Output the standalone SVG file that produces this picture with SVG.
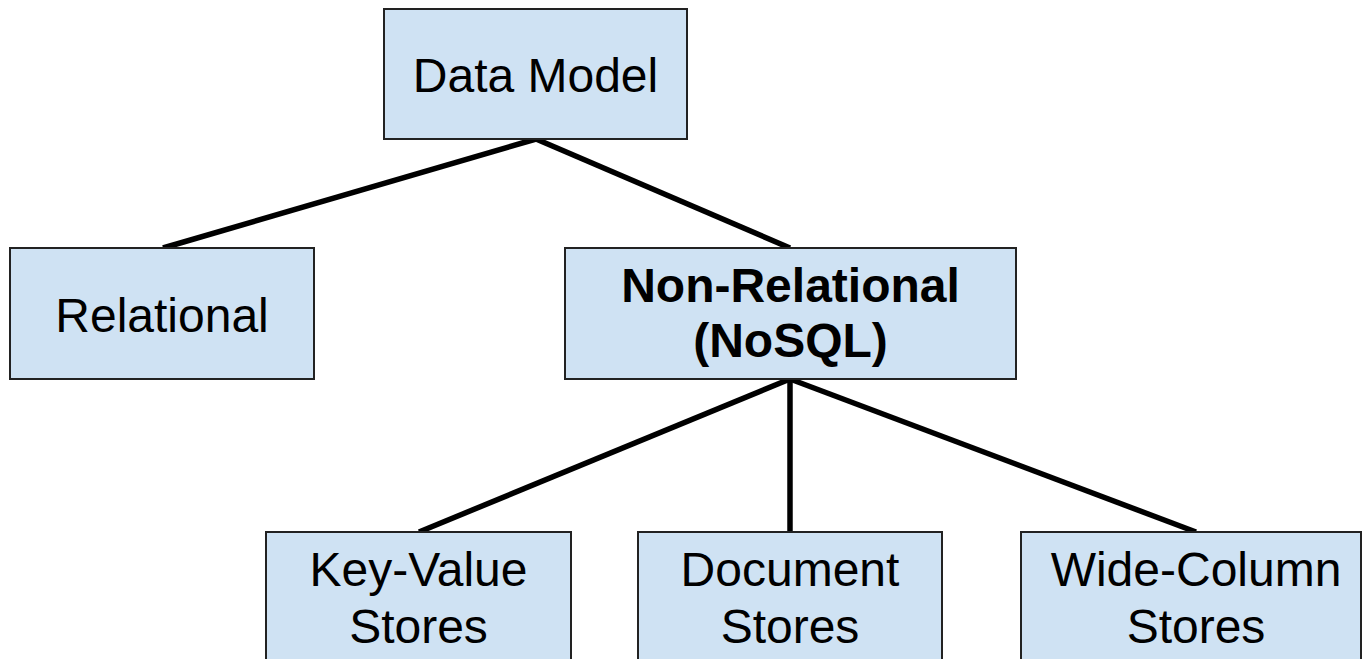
<svg xmlns="http://www.w3.org/2000/svg" width="1362" height="659" viewBox="0 0 1362 659">
  <style>
    .box { fill: #cfe2f3; stroke: #222; stroke-width: 2; }
    .label { font-family: "Liberation Sans", Arial, sans-serif; font-size: 48px; fill: #000; text-anchor: middle; }
    .bold { font-weight: bold; }
    .edge { stroke: #000; stroke-width: 5.5; fill: none; }
  </style>
  <rect width="1362" height="659" fill="#fff"/>
  <g id="connectors">
    <line class="edge" x1="536" y1="139" x2="163" y2="248"/>
    <line class="edge" x1="536" y1="139" x2="790" y2="248"/>
    <line class="edge" x1="790" y1="379" x2="419" y2="532"/>
    <line class="edge" x1="790" y1="379" x2="790" y2="532"/>
    <line class="edge" x1="790" y1="379" x2="1196" y2="532"/>
  </g>
  <g id="data-model">
    <rect class="box" x="384" y="9" width="303" height="130"/>
    <text class="label" x="535.5" y="92">Data Model</text>
  </g>
  <g id="relational">
    <rect class="box" x="10" y="248" width="304" height="131"/>
    <text class="label" x="162" y="332">Relational</text>
  </g>
  <g id="non-relational">
    <rect class="box" x="565" y="248" width="451" height="131"/>
    <text class="label bold" x="790.5" y="302">Non-Relational</text>
    <text class="label bold" x="790.5" y="357">(NoSQL)</text>
  </g>
  <g id="key-value">
    <rect class="box" x="266" y="532" width="305" height="140"/>
    <text class="label" x="418.5" y="586">Key-Value</text>
    <text class="label" x="418.5" y="643">Stores</text>
  </g>
  <g id="document">
    <rect class="box" x="638" y="532" width="304" height="140"/>
    <text class="label" x="790" y="586">Document</text>
    <text class="label" x="790" y="643">Stores</text>
  </g>
  <g id="wide-column">
    <rect class="box" x="1021" y="532" width="340" height="140"/>
    <text class="label" x="1196" y="586">Wide-Column</text>
    <text class="label" x="1196" y="643">Stores</text>
  </g>
</svg>
